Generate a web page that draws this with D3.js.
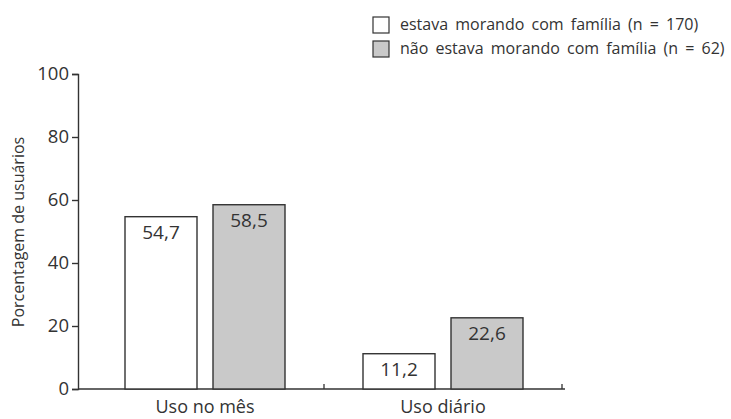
<!DOCTYPE html>
<html>
<head>
<meta charset="utf-8">
<script src="https://cdn.jsdelivr.net/npm/d3@7"></script>
<style>
  body { margin: 0; background: #fff; }
  text { font-family: "Open Sans", "Noto Sans", sans-serif; fill: #333; }
</style>
</head>
<body>
<svg width="731" height="419"></svg>
<script>
// data
var categories = ["Uso no mês", "Uso diário"];
var seriesNames = ["estava morando com família (n = 170)", "não estava morando com família (n = 62)"];
var comFamilia = [54.7, 11.2];
var semFamilia = [58.5, 22.6];
var yTicks = [0, 20, 40, 60, 80, 100];

var colors = ["#ffffff", "#c9c9c9"];
var ink = "#333";

var svg = d3.select("svg");

// scales
var y = d3.scaleLinear().domain([0, 100]).range([389, 74]);
var x0 = d3.scaleBand().domain(categories).range([86, 562]);
var x1 = d3.scaleBand().domain([0, 1]).range([0, 160]).paddingInner(16 / 88);

var axisX = 78;

// y axis
var yAxis = svg.append("g")
    .attr("transform", "translate(" + axisX + ",0)")
    .call(d3.axisLeft(y).tickValues(yTicks).tickSize(6).tickPadding(3));
yAxis.select(".domain").attr("stroke", ink).attr("stroke-width", 1.4);
yAxis.selectAll(".tick line").attr("stroke", ink).attr("stroke-width", 1.4);
yAxis.selectAll(".tick text")
    .style("font-size", "18.5px")
    .attr("fill", ink)
    .attr("font-family", null);

// x axis line
svg.append("line")
    .attr("x1", axisX).attr("x2", x0.range()[1] + 3)
    .attr("y1", y(0)).attr("y2", y(0))
    .attr("stroke", ink).attr("stroke-width", 1.4);

// small ticks at band boundaries
svg.selectAll("line.xtick")
    .data(categories)
    .enter().append("line")
    .attr("class", "xtick")
    .attr("x1", function (d) { return x0(d) + x0.bandwidth(); })
    .attr("x2", function (d) { return x0(d) + x0.bandwidth(); })
    .attr("y1", y(0)).attr("y2", y(0) - 5)
    .attr("stroke", ink).attr("stroke-width", 1.3);

// category labels
svg.selectAll("text.cat")
    .data(categories)
    .enter().append("text")
    .attr("class", "cat")
    .attr("x", function (d) { return x0(d) + x0.bandwidth() / 2; })
    .attr("y", 413)
    .attr("text-anchor", "middle")
    .style("font-size", "18px")
    .text(function (d) { return d; });

// bars
var rows = [comFamilia, semFamilia];
var groups = svg.selectAll("g.grp")
    .data(categories)
    .enter().append("g")
    .attr("class", "grp")
    .attr("transform", function (d) {
        return "translate(" + (x0(d) + x0.bandwidth() / 2 - 80) + ",0)";
    });

groups.each(function (cat, ci) {
    var g = d3.select(this);
    var vals = rows.map(function (r, si) { return { s: si, v: r[ci] }; });
    g.selectAll("rect")
        .data(vals)
        .enter().append("rect")
        .attr("x", function (d) { return x1(d.s); })
        .attr("y", function (d) { return y(d.v); })
        .attr("width", x1.bandwidth())
        .attr("height", function (d) { return y(0) - y(d.v); })
        .attr("fill", function (d) { return colors[d.s]; })
        .attr("stroke", ink)
        .attr("stroke-width", 1.4);
    g.selectAll("text")
        .data(vals)
        .enter().append("text")
        .attr("x", function (d) { return x1(d.s) + x1.bandwidth() / 2; })
        .attr("y", function (d) { return y(d.v) + 22; })
        .attr("text-anchor", "middle")
        .style("font-size", "19px")
        .text(function (d) { return String(d.v).replace(".", ","); });
});

// y axis title
svg.append("text")
    .attr("transform", "translate(24,232) rotate(-90)")
    .attr("text-anchor", "middle")
    .style("font-size", "16px")
    .text("Porcentagem de usuários");

// legend
var legend = svg.selectAll("g.leg")
    .data(seriesNames)
    .enter().append("g")
    .attr("class", "leg")
    .attr("transform", function (d, i) { return "translate(373," + (17 + i * 24) + ")"; });
legend.append("rect")
    .attr("width", 16).attr("height", 16)
    .attr("fill", function (d, i) { return colors[i]; })
    .attr("stroke", ink).attr("stroke-width", 1.2);
legend.append("text")
    .attr("x", 27).attr("y", 13)
    .style("font-size", "16px")
    .style("word-spacing", "3px")
    .text(function (d) { return d; });
</script>
</body>
</html>
